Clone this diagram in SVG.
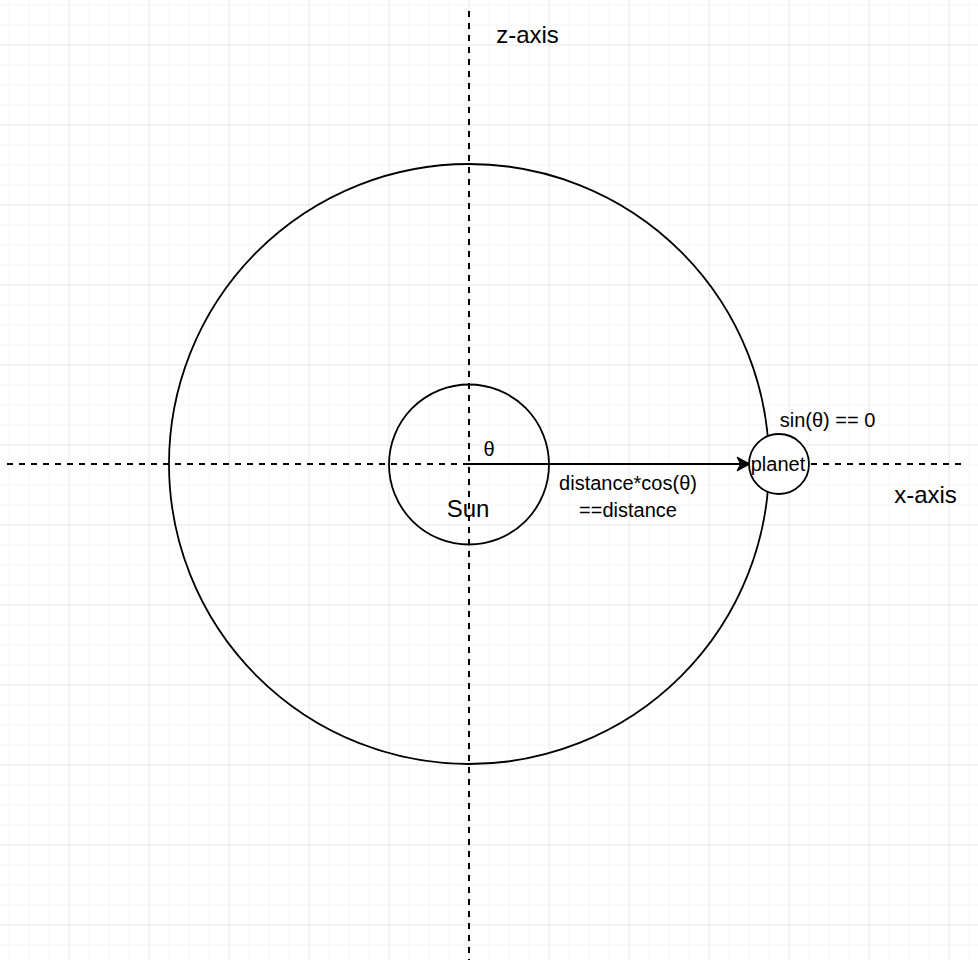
<svg xmlns="http://www.w3.org/2000/svg" width="978" height="960" viewBox="0 0 978 960">
<defs>
<pattern id="minor" x="8.5" y="4.5" width="20" height="20" patternUnits="userSpaceOnUse">
<path d="M0 0 H20 M0 0 V20" fill="none" stroke="#efefef" stroke-width="1"/>
</pattern>
<pattern id="major" x="68.5" y="44.5" width="80" height="80" patternUnits="userSpaceOnUse">
<path d="M0 0 H80 M0 0 V80" fill="none" stroke="#dcdcdc" stroke-width="1"/>
</pattern>
<marker id="arrow" markerUnits="userSpaceOnUse" markerWidth="18" markerHeight="18" viewBox="0 0 18 18" refX="14" refY="9" orient="auto">
<path d="M1 2 L14 9 L1 16 L4.5 9 Z" fill="#000" stroke="#000" stroke-width="1"/>
</marker>
</defs>
<style>
.axis{fill:none;stroke:#000;stroke-width:2;stroke-dasharray:6 6}
.shape{fill:none;stroke:#000;stroke-width:1.8}
.t{font-family:"Liberation Sans",Arial,sans-serif;fill:#000;text-anchor:middle}
.big{font-size:24px}
.small{font-size:20px}
</style>
<rect x="0" y="0" width="978" height="960" fill="#fff"/>
<rect x="0" y="0" width="978" height="960" fill="url(#minor)"/>
<rect x="0" y="0" width="978" height="960" fill="url(#major)"/>
<g id="connectors">
<line id="x-axis-line" class="axis" x1="7" y1="464" x2="967" y2="464"/>
<line id="z-axis-line" class="axis" x1="469" y1="11" x2="469" y2="960"/>
<line id="distance-arrow" x1="469" y1="464" x2="750" y2="464" stroke="#000" stroke-width="2" marker-end="url(#arrow)"/>
</g>
<g id="orbit"><circle class="shape" cx="469" cy="464" r="300"/></g>
<g id="sun"><circle class="shape" cx="469" cy="464.5" r="80"/><text class="t big" x="468" y="517">Sun</text></g>
<g id="planet"><circle class="shape" cx="779" cy="464" r="30" style="fill:#fff"/><text class="t small" x="778" y="471">planet</text></g>
<g id="labels">
<text class="t big" x="527.5" y="43">z-axis</text>
<text class="t big" x="925.5" y="503">x-axis</text>
<text class="t small" x="489" y="456">θ</text>
<text class="t small" x="628" y="490">distance*cos(θ)</text>
<text class="t small" x="628" y="517">==distance</text>
<text class="t small" x="827.5" y="427">sin(θ) == 0</text>
</g>
</svg>
